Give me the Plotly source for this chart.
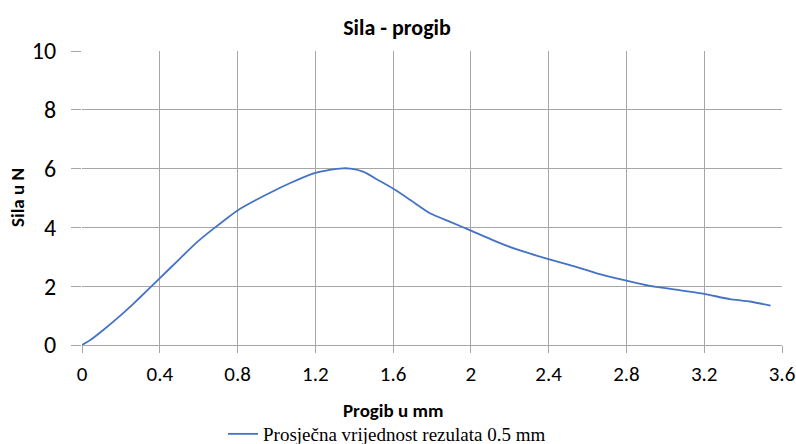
import plotly.graph_objects as go

# Data
progib_mm = [0.0, 0.043, 0.111, 0.197, 0.265, 0.333, 0.398, 0.504, 0.590, 0.675, 0.798,
             0.880, 0.983, 1.068, 1.188, 1.274, 1.342, 1.381, 1.449, 1.518, 1.60,
             1.689, 1.792, 1.894, 2.0, 2.134, 2.237, 2.399, 2.510, 2.647, 2.80,
             2.921, 3.058, 3.199, 3.332, 3.435, 3.541]
sila_N = [0.0, 0.17, 0.52, 1.0, 1.41, 1.84, 2.26, 2.94, 3.49, 3.95, 4.57,
          4.88, 5.23, 5.50, 5.83, 5.96, 6.01, 6.0, 5.89, 5.63, 5.32,
          4.93, 4.47, 4.19, 3.89, 3.51, 3.25, 2.92, 2.72, 2.44, 2.19,
          2.01, 1.88, 1.74, 1.56, 1.48, 1.34]
x_ticks = [0, 0.4, 0.8, 1.2, 1.6, 2, 2.4, 2.8, 3.2, 3.6]
y_ticks = [0, 2, 4, 6, 8, 10]

series_name = "Prosječna vrijednost rezulata 0.5 mm"
title_text = "Sila - progib"
x_title = "Progib u mm"
y_title = "Sila u N"

SANS = "Carlito, Open Sans, sans-serif"

W, H = 796, 444
PL, PR, PT, PB = 82, 782, 51, 345          # plot area in page pixels
L, R, T, B = PL, W - PR, PT, H - PB
plot_w = PR - PL
plot_h = PB - PT


def px_x(px):
    return (px - PL) / plot_w


def px_y(py):
    return (PB - py) / plot_h


fig = go.Figure()
fig.add_trace(go.Scatter(
    x=progib_mm, y=sila_N, mode="lines", name=series_name,
    line=dict(color="#4472C4", width=1.8, shape="spline", smoothing=0.5),
))

grid = "#a6a6a6"

fig.update_layout(
    width=W, height=H,
    margin=dict(l=L, r=R, t=T, b=B, autoexpand=False),
    paper_bgcolor="white", plot_bgcolor="white",
    title=dict(text="<b>" + title_text + "</b>", x=397 / W, xanchor="center",
               y=1 - 27 / H, yanchor="middle",
               font=dict(family=SANS, size=22, color="black")),
    showlegend=True,
    legend=dict(orientation="h", x=px_x(223), xanchor="left",
                y=px_y(415), yanchor="top",
                font=dict(family="Liberation Serif", size=19, color="black"),
                itemwidth=30, bgcolor="rgba(0,0,0,0)"),
    xaxis=dict(range=[0, 3.6], tickvals=x_ticks, ticktext=[str(t) for t in x_ticks],
               showgrid=True, gridcolor=grid, gridwidth=1,
               showline=True, linecolor=grid, linewidth=1,
               ticks="outside", ticklen=7, tickcolor=grid,
               ticklabelstandoff=3,
               tickfont=dict(family=SANS, size=21, color="black"),
               zeroline=False, automargin=False),
    yaxis=dict(range=[0, 10], tickvals=y_ticks,
               showgrid=True, gridcolor=grid, gridwidth=1,
               showline=False, ticks="outside", ticklen=10, tickcolor=grid,
               ticklabelstandoff=10,
               tickfont=dict(family=SANS, size=24, color="black"),
               zeroline=False, automargin=False),
    annotations=[
        dict(text="<b>" + x_title + "</b>", x=px_x(393), xref="paper",
             y=px_y(410), yref="paper", xanchor="center", yanchor="middle",
             showarrow=False, font=dict(family=SANS, size=19, color="black")),
        dict(text="<b>" + y_title + "</b>", textangle=-90, x=px_x(17),
             y=px_y(198), xref="paper", yref="paper",
             xanchor="center", yanchor="middle",
             showarrow=False, font=dict(family=SANS, size=19, color="black")),
    ],
)

# Remove the default page margin so the figure sits at the window's top-left corner.
fig.write_html(
    "out.html",
    config={"displayModeBar": False},
    post_script="document.body.style.margin='0';document.body.style.overflow='hidden';",
)
